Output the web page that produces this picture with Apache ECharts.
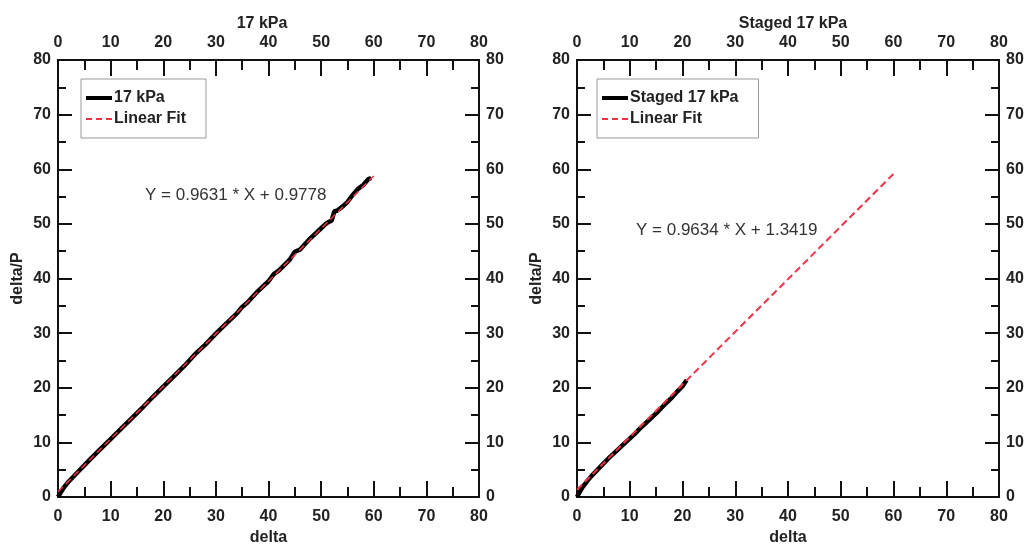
<!DOCTYPE html>
<html><head><meta charset="utf-8">
<script src="https://cdn.jsdelivr.net/npm/echarts@6/dist/echarts.min.js"></script>
<style>html,body{margin:0;padding:0;background:#fff}#c{width:1024px;height:546px}</style>
</head><body><div id="c"></div>
<script>
// ---- data ----
const titles = ['17 kPa', 'Staged 17 kPa'];
const axisTicks = [0, 10, 20, 30, 40, 50, 60, 70, 80];
const leftX = [0,1,2,3,4,5,6,8,10,12,14,16,18,20,22,24,26,28,30,32,34,35,36,38,40,41,42,44,45,46,48,50,51,52,52.5,53,54,55,56,57,58,59,59.5];
const leftY = [0,1.6,2.8,3.8,4.8,5.8,6.8,8.7,10.6,12.5,14.4,16.3,18.3,20.2,22.1,24.0,26.1,27.9,29.9,31.8,33.6,34.8,35.6,37.7,39.5,40.8,41.5,43.4,44.9,45.3,47.4,49.2,50.1,50.6,52.3,52.4,53.1,54.0,55.3,56.4,57.1,58.2,58.4];
const leftFitX = [0, 60];
const leftFitY = [0.98, 58.76];
const rightX = [0,0.5,1,2,3,4,5,6,7,8,9,10,11,12,13,14,15,16,17,18,19,20,20.5,20.8];
const rightY = [0,0.9,1.7,3.0,4.1,5.1,6.1,7.1,8.0,8.9,9.8,10.7,11.6,12.6,13.5,14.4,15.3,16.3,17.3,18.2,19.3,20.3,21.0,21.4];
const rightFitX = [0, 60];
const rightFitY = [1.34, 59.15];
const equations = ['Y = 0.9631 * X + 0.9778', 'Y = 0.9634 * X + 1.3419'];
const seriesNames = [['17 kPa', 'Linear Fit'], ['Staged 17 kPa', 'Linear Fit']];

const zip = (a, b) => a.map((v, i) => [v, b[i]]);
const FONT = 'Liberation Sans, Arial, sans-serif';
const TXT = {color: '#222', fontWeight: 'bold', fontSize: 16, fontFamily: FONT};
const RED = '#ee3344';

function xAxis(gi, pos) {
  return {
    type: 'value', gridIndex: gi, position: pos, min: 0, max: 80, interval: 10,
    axisLine: {show: true, onZero: false, lineStyle: {color: '#111', width: 2}},
    axisTick: {show: true, inside: true, length: 16, lineStyle: {color: '#111', width: 2}},
    minorTick: {show: true, splitNumber: 2, length: 10, lineStyle: {color: '#111', width: 2}},
    splitLine: {show: false},
    axisLabel: Object.assign({margin: pos === 'top' ? 9 : 12}, TXT),
    name: pos === 'bottom' ? 'delta' : '', nameLocation: 'middle', nameGap: 32,
    nameTextStyle: TXT
  };
}
function yAxis(gi, pos) {
  return {
    type: 'value', gridIndex: gi, position: pos, min: 0, max: 80, interval: 10,
    axisLine: {show: true, onZero: false, lineStyle: {color: '#111', width: 2}},
    axisTick: {show: true, inside: true, length: 14, lineStyle: {color: '#111', width: 2}},
    minorTick: {show: true, splitNumber: 2, length: 8, lineStyle: {color: '#111', width: 2}},
    splitLine: {show: false},
    axisLabel: Object.assign({margin: 7}, TXT),
    name: pos === 'left' ? 'delta/P' : '', nameLocation: 'middle', nameGap: 32,
    nameTextStyle: TXT
  };
}

const grids = [
  {left: 58, right: 545, top: 60, bottom: 49, containLabel: false, outerBoundsMode: 'none'},
  {left: 577, right: 25, top: 60, bottom: 49, containLabel: false, outerBoundsMode: 'none'}
];

const ICON_SOLID = 'path://M0,0H26V4H0Z';
const ICON_DASH = 'path://M0,1H6V3H0Z M10,1H16V3H10Z M20,1H26V3H20Z';

function legend(i, left) {
  return {
    data: [
      {name: seriesNames[i][0], icon: ICON_SOLID},
      {name: seriesNames[i][1], icon: ICON_DASH}
    ],
    orient: 'vertical', left: left, top: 79,
    borderColor: '#999', borderWidth: 1, padding: [11, 20, 11, 5], itemGap: 5,
    itemWidth: 26, itemHeight: 4,
    textStyle: Object.assign({lineHeight: 16, padding: [0, 0, 0, -3]}, TXT),
    selectedMode: false
  };
}

const option = {
  backgroundColor: '#fff',
  animation: false,
  title: [
    {text: titles[0], left: 257, top: 11, textAlign: 'center', textStyle: TXT},
    {text: titles[1], left: 788, top: 11, textAlign: 'center', textStyle: TXT}
  ],
  grid: grids,
  xAxis: [xAxis(0, 'bottom'), xAxis(0, 'top'), xAxis(1, 'bottom'), xAxis(1, 'top')],
  yAxis: [yAxis(0, 'left'), yAxis(0, 'right'), yAxis(1, 'left'), yAxis(1, 'right')],
  legend: [legend(0, 81), legend(1, 597)],
  graphic: [
    {type: 'text', left: 145, top: 187, style: {text: equations[0], fill: '#333', font: '17px ' + FONT}},
    {type: 'text', left: 636, top: 222, style: {text: equations[1], fill: '#333', font: '17px ' + FONT}}
  ],
  series: [
    {name: seriesNames[0][0], type: 'line', xAxisIndex: 0, yAxisIndex: 0, data: zip(leftX, leftY), symbol: 'none',
     lineStyle: {color: '#000', width: 4.5}, itemStyle: {color: '#000'}, z: 2},
    {name: seriesNames[0][1], type: 'line', xAxisIndex: 0, yAxisIndex: 0, data: zip(leftFitX, leftFitY), symbol: 'none',
     lineStyle: {color: RED, width: 1.5, type: [7, 4]}, itemStyle: {color: RED}, z: 3},
    {name: seriesNames[1][0], type: 'line', xAxisIndex: 2, yAxisIndex: 2, data: zip(rightX, rightY), symbol: 'none',
     lineStyle: {color: '#000', width: 4.5}, itemStyle: {color: '#000'}, z: 2},
    {name: seriesNames[1][1], type: 'line', xAxisIndex: 2, yAxisIndex: 2, data: zip(rightFitX, rightFitY), symbol: 'none',
     lineStyle: {color: RED, width: 2, type: [7, 4]}, itemStyle: {color: RED}, z: 3}
  ]
};
const chart = echarts.init(document.getElementById('c'), null, {renderer: 'canvas'});
chart.setOption(option);
</script></body></html>
